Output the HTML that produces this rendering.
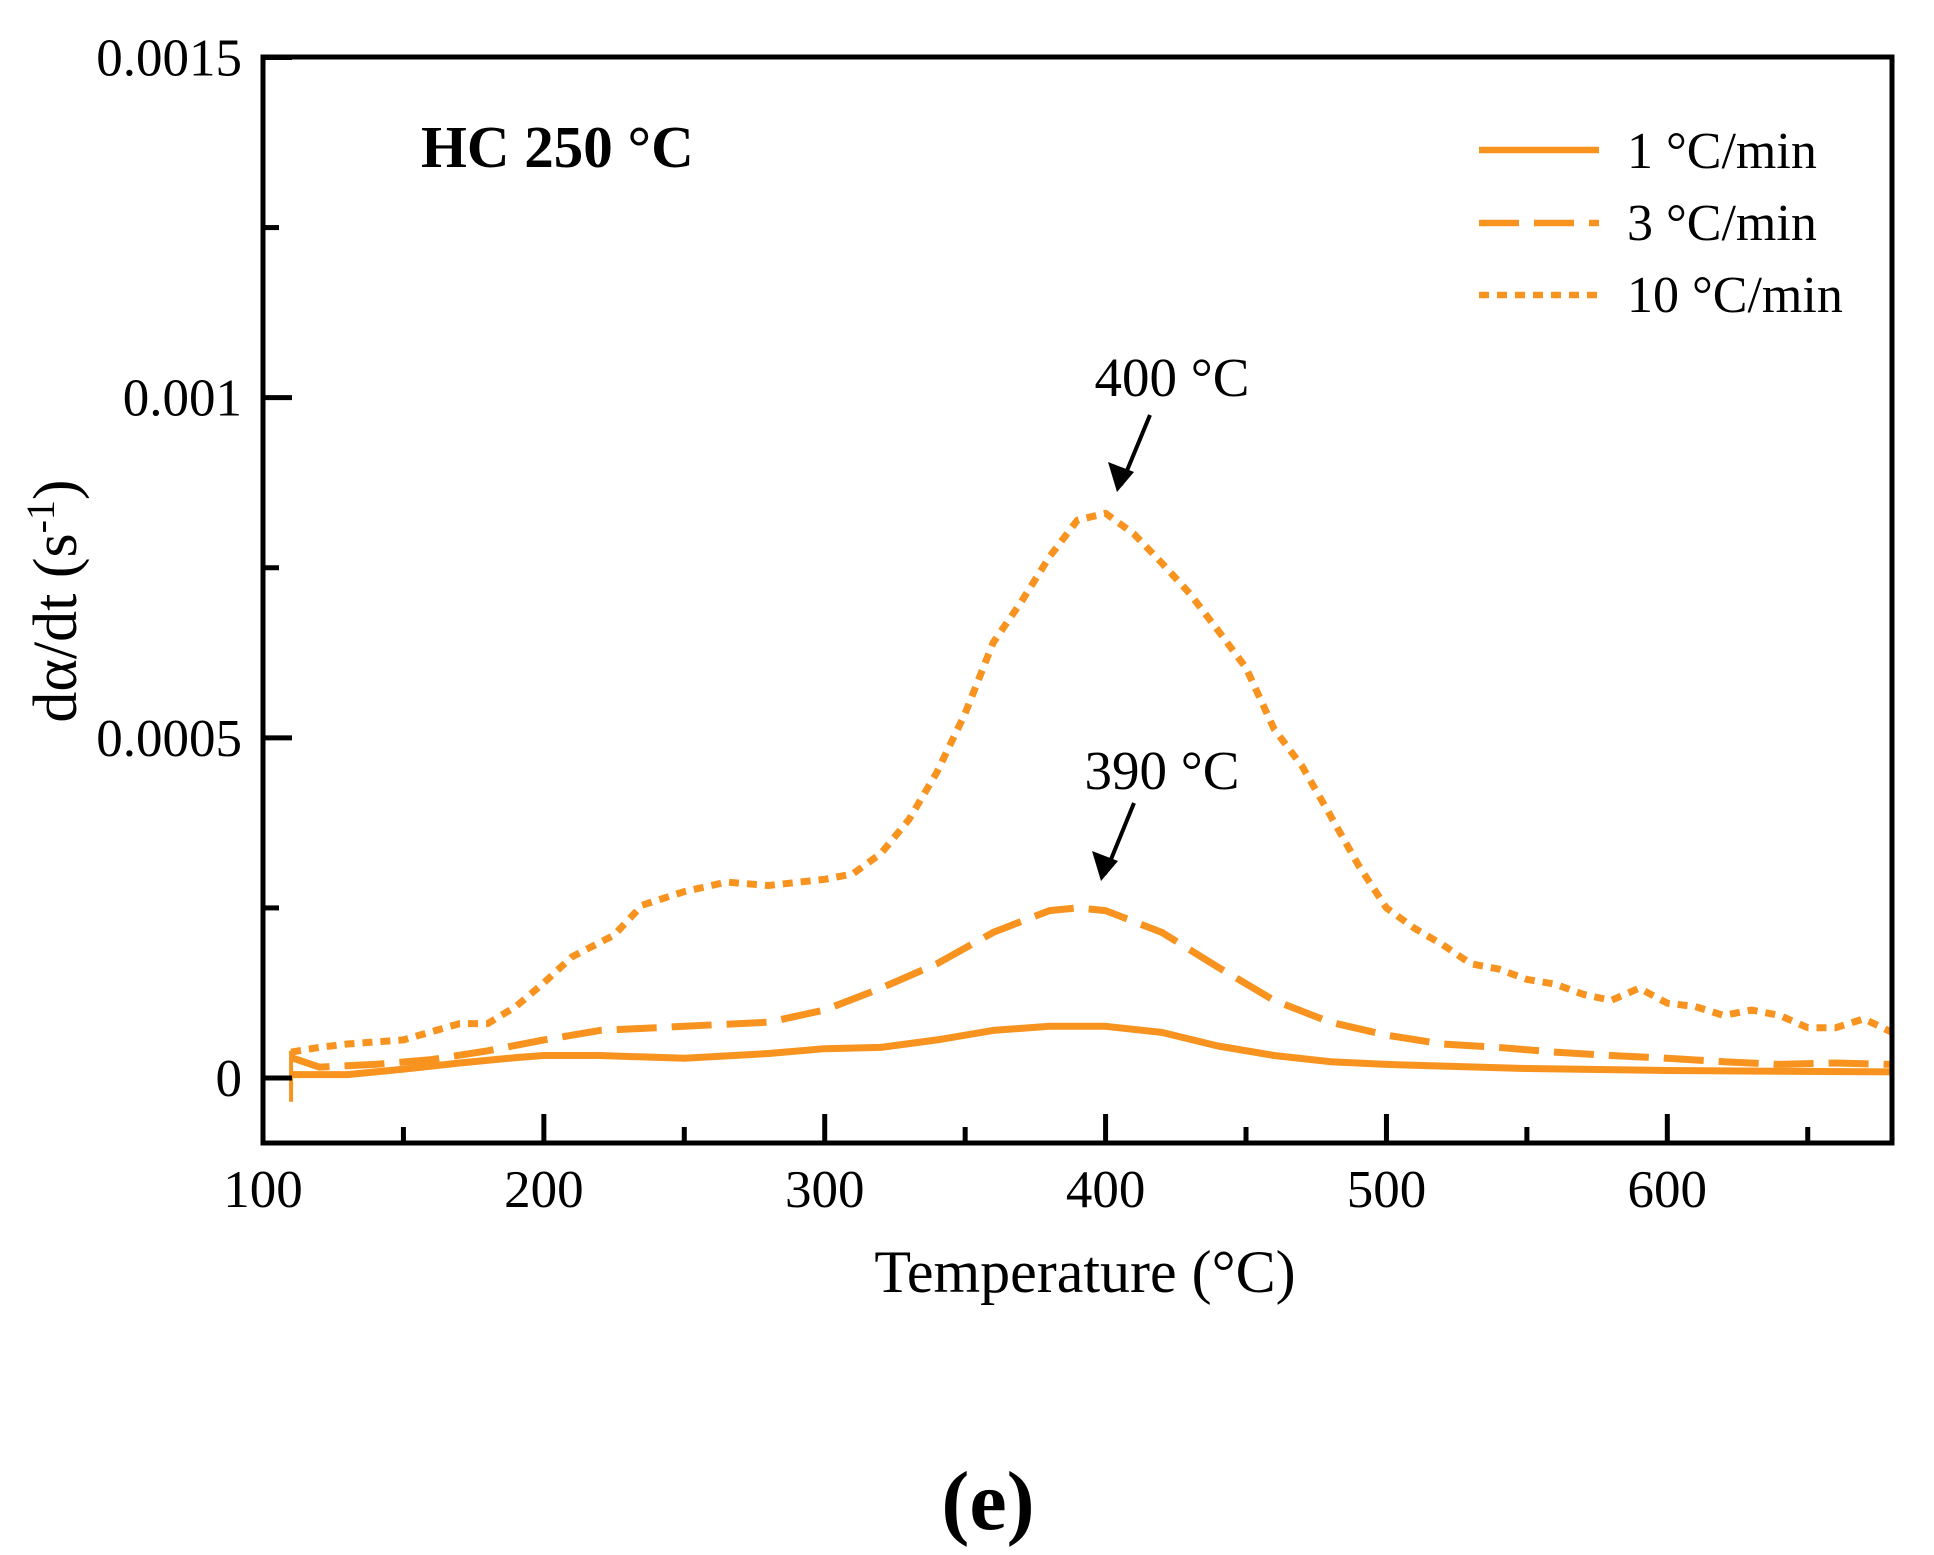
<!DOCTYPE html>
<html><head><meta charset="utf-8"><style>
body{margin:0;background:#fff;}
svg text{font-family:"Liberation Serif",serif;fill:#000;}
</style></head><body>
<svg id="chart" width="1934" height="1550" viewBox="0 0 1934 1550" xmlns="http://www.w3.org/2000/svg">
<g id="plot"></g>
<text x="421" y="167" font-size="59" font-weight="bold">HC 250 °C</text>
<g>
<line x1="1479" y1="150" x2="1599" y2="150" stroke="#F7931E" stroke-width="6.5"/>
<text x="1627" y="168" font-size="52">1 °C/min</text>
<line x1="1479" y1="223" x2="1599" y2="223" stroke="#F7931E" stroke-width="6.5" stroke-dasharray="40 15"/>
<text x="1627" y="240" font-size="52">3 °C/min</text>
<line x1="1479" y1="295" x2="1599" y2="295" stroke="#F7931E" stroke-width="6.5" stroke-dasharray="10 8"/>
<text x="1627" y="312" font-size="52">10 °C/min</text>
</g>
<text x="1172" y="396" font-size="55" text-anchor="middle">400 °C</text>
<line x1="1150" y1="415" x2="1121" y2="485" stroke="#000" stroke-width="4"/>
<path d="M1117,492 L1108,462 L1134,472 Z" fill="#000"/>
<text x="1162" y="789" font-size="55" text-anchor="middle">390 °C</text>
<line x1="1134" y1="803" x2="1105" y2="874" stroke="#000" stroke-width="4"/>
<path d="M1101,881 L1092,851 L1118,861 Z" fill="#000"/>
<text x="1085" y="1292" font-size="60" text-anchor="middle">Temperature (°C)</text>
<text transform="translate(76,601) rotate(-90)" font-size="62" text-anchor="middle">dα/dt (s<tspan font-size="40" dy="-22">-1</tspan><tspan dy="22">)</tspan></text>
<text x="988" y="1529" font-size="84" font-weight="bold" text-anchor="middle">(e)</text>
</svg>
<script>
const xTicks=[100,200,300,400,500,600];
const xMinor=[150,250,350,450,550,650];
const yTicks=[0,0.0005,0.001,0.0015];
const yTickLabels=["0","0.0005","0.001","0.0015"];
const yMinor=[0.00025,0.00075,0.00125];
const t10=[110,120,130,150,170,180,190,200,210,225,235,250,265,280,300,310,320,330,340,350,360,370,380,390,400,410,420,430,440,450,460,470,480,490,500,510,520,530,540,550,560,570,580,590,600,610,620,630,640,650,660,670,680];
const v10=[0.000038,0.000045,0.00005,0.000056,0.00008,0.00008,0.000105,0.00014,0.000178,0.00021,0.000254,0.000274,0.000288,0.000283,0.000292,0.0003,0.00033,0.00038,0.00045,0.000536,0.00064,0.0007,0.000766,0.00082,0.00083,0.0008,0.000757,0.000712,0.000658,0.000603,0.000513,0.000458,0.000386,0.000313,0.00025,0.00022,0.000196,0.000168,0.00016,0.000145,0.000138,0.000123,0.000114,0.000132,0.00011,0.000105,0.000092,0.0001,0.000092,0.000074,0.000074,0.000087,0.000067];
const t3=[110,120,140,160,180,200,220,240,260,280,300,320,340,360,380,390,400,420,440,460,480,500,520,540,560,580,600,620,640,660,680];
const v3=[0.00003,0.000016,0.00002,0.000027,0.00004,0.000056,0.00007,0.000074,0.000078,0.000082,0.0001,0.000132,0.000168,0.000214,0.000246,0.00025,0.000246,0.000214,0.000163,0.000114,0.000082,0.000063,0.00005,0.000045,0.000038,0.000033,0.000029,0.000024,0.00002,0.000022,0.00002];
const t1=[110,130,150,170,190,200,220,250,280,300,320,340,360,380,400,420,440,460,480,500,550,600,680];
const v1=[0.000005,0.000005,0.000013,0.000022,0.00003,0.000033,0.000033,0.000029,0.000036,0.000043,0.000045,0.000056,0.00007,0.000076,0.000076,0.000067,0.000047,0.000033,0.000024,0.00002,0.000014,0.000011,0.000009];
const L=263,R=1892,T=57,B=1143;
const xs=v=>L+(v-100)*(R-L)/580;
const ys=v=>1078-v*(1078-57.5)/0.0015;
const NS="http://www.w3.org/2000/svg";
const g=document.getElementById('plot');
function mk(tag,attrs){const e=document.createElementNS(NS,tag);for(const k in attrs)e.setAttribute(k,attrs[k]);g.appendChild(e);return e;}
function series(ts,vs,dash,name){
 let d=ts.map((t,i)=>(i?'L':'M')+xs(t).toFixed(1)+','+ys(vs[i]).toFixed(1)).join(' ');
 const p=mk('path',{d:d,fill:'none',stroke:'#F7931E','stroke-width':7,'stroke-linejoin':'round'});
 if(dash)p.setAttribute('stroke-dasharray',dash);
 
 
}
series(t10,v10,'10 8','series-10-c-min');
series(t3,v3,'40 15','series-3-c-min');
series(t1,v1,null,'series-1-c-min');
const sp=mk('line',{x1:xs(110),y1:ys(0.00004),x2:xs(110),y2:ys(-0.000035),stroke:'#F7931E','stroke-width':4});


const fr=mk('rect',{x:L,y:T,width:R-L,height:B-T,fill:'none',stroke:'#000','stroke-width':5});


xTicks.forEach(v=>{
 const l=mk('line',{x1:xs(v),y1:B,x2:xs(v),y2:B-29,stroke:'#000','stroke-width':5});
 
 
 const t=mk('text',{x:xs(v),y:1207,'font-size':53,'text-anchor':'middle'});
 t.textContent=v;
 
 
});
xMinor.forEach(v=>{
 const l=mk('line',{x1:xs(v),y1:B,x2:xs(v),y2:B-16,stroke:'#000','stroke-width':5});
 
 
});
yTicks.forEach((v,i)=>{
 const l=mk('line',{x1:L,y1:ys(v),x2:L+29,y2:ys(v),stroke:'#000','stroke-width':5});
 
 
 const t=mk('text',{x:242,y:ys(v)+18,'font-size':53,'text-anchor':'end'});
 t.textContent=yTickLabels[i];
 
 
});
yMinor.forEach(v=>{
 const l=mk('line',{x1:L,y1:ys(v),x2:L+16,y2:ys(v),stroke:'#000','stroke-width':5});
 
 
});
</script>
</body></html>
